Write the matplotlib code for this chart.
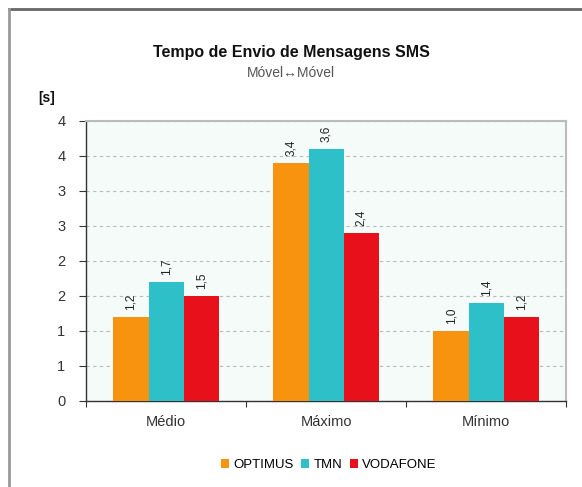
import matplotlib.pyplot as plt
import numpy as np
from matplotlib.lines import Line2D
from matplotlib.patches import Patch

plt.rcParams['font.family'] = ['Liberation Sans Narrow', 'Liberation Sans', 'DejaVu Sans']

# dados
categorias = ['Médio', 'Máximo', 'Mínimo']
operadores = ['OPTIMUS', 'TMN', 'VODAFONE']
optimus = [1.2, 3.4, 1.0]
tmn = [1.7, 3.6, 1.4]
vodafone = [1.5, 2.4, 1.2]
y_ticks = [0, 0.5, 1.0, 1.5, 2.0, 2.5, 3.0, 3.5, 4.0]
y_labels = ['0', '1', '1', '2', '2', '3', '3', '4', '4']

cores = ['#F7930E', '#2EC0C8', '#E8101A']
series = [optimus, tmn, vodafone]

fig = plt.figure(figsize=(5.82, 4.87), dpi=100)
ax = fig.add_axes([0.148, 0.177, 0.825, 0.575])
ax.set_facecolor('#F4FBF8')

x = np.arange(len(categorias))
w = 0.22
for i, (vals, cor) in enumerate(zip(series, cores)):
    pos = x + (i - 1) * w
    ax.bar(pos, vals, width=w, color=cor, edgecolor='none', zorder=3)
    for xp, v in zip(pos, vals):
        ax.text(xp, v + 0.1, ('%.1f' % v).replace('.', ','), rotation=90,
                ha='center', va='bottom', fontsize=8.5, color='#222222')

ax.set_xlim(-0.5, 2.5)
ax.set_ylim(0, 4)
ax.set_yticks(y_ticks)
ax.set_yticklabels(y_labels, fontsize=10.5, color='#333333')
ax.yaxis.grid(True, linestyle=(0, (3, 3)), color='#BBBBBB', linewidth=0.8, zorder=0)

# ticks do eixo x nas fronteiras das categorias
ax.set_xticks([-0.5, 0.5, 1.5, 2.5])
ax.set_xticklabels([])
ax.set_xticks(x, minor=True)
ax.set_xticklabels(categorias, minor=True, fontsize=10.5, color='#333333')
ax.tick_params(axis='x', which='minor', length=0, pad=10)
ax.tick_params(axis='x', which='major', length=4, color='#333333', direction='out')
ax.tick_params(axis='y', length=5, color='#333333', pad=10)

for s in ['left', 'bottom']:
    ax.spines[s].set_color('#333333')
    ax.spines[s].set_linewidth(1.0)
for s in ['top', 'right']:
    ax.spines[s].set_color('#BBBBBB')
    ax.spines[s].set_linewidth(1.5)

fig.text(0.5, 0.893, 'Tempo de Envio de Mensagens SMS', ha='center', va='center',
         fontsize=11.5, fontweight='bold', color='#111111')
fig.text(0.5, 0.851, 'Móvel\u2194Móvel', ha='center', va='center',
         fontsize=10, color='#555555')
fig.text(0.065, 0.799, '[s]', ha='left', va='center', fontsize=10,
         fontweight='bold', color='#111111')

handles = [Patch(facecolor=c, edgecolor='none') for c in cores]
fig.legend(handles, operadores, loc='center', bbox_to_anchor=(0.565, 0.045),
           ncol=3, frameon=False, fontsize=9.5, handlelength=0.6, handleheight=0.6,
           handletextpad=0.3, columnspacing=0.6)

# moldura exterior (apenas topo e esquerda)
fig.add_artist(Line2D([0.016, 1.0], [0.982, 0.982], color='#666666', linewidth=2))
fig.add_artist(Line2D([0.016, 0.016], [0.0, 0.982], color='#999999', linewidth=2))

fig.savefig('out.png', dpi=100)
